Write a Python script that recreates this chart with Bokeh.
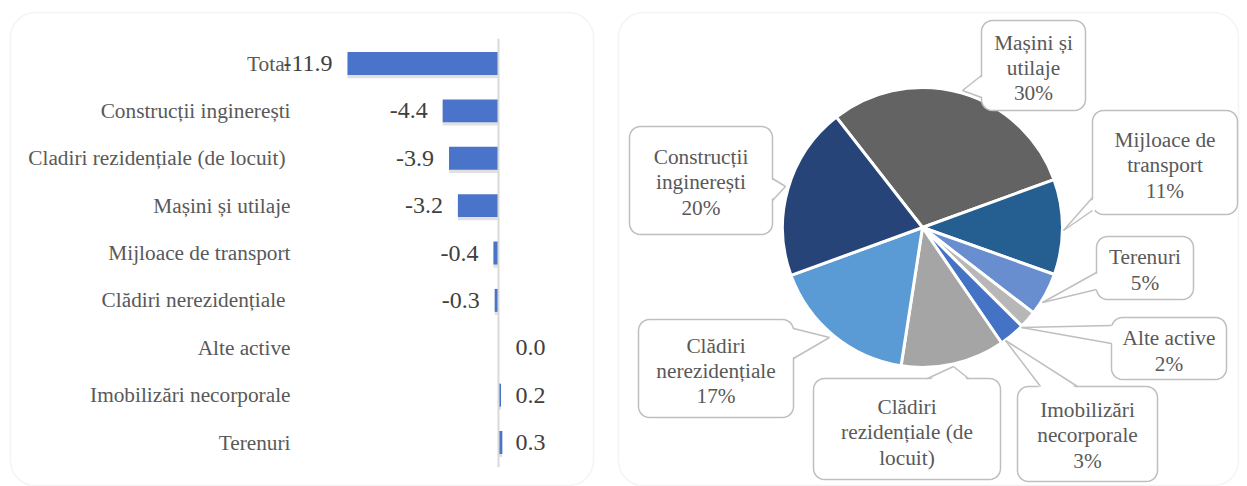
import numpy as np
from bokeh.plotting import figure
from bokeh.models import ColumnDataSource, Range1d, BoxAnnotation
from bokeh.layouts import row
from bokeh.transform import dodge
from bokeh.core.properties import value
from bokeh.embed import file_html
from bokeh.resources import INLINE

# ---------------- data ----------------
bar_categories = ["Total", "Construcții inginerești", "Cladiri rezidențiale (de locuit)",
                  "Mașini și utilaje", "Mijloace de transport", "Clădiri nerezidențiale",
                  "Alte active", "Imobilizări necorporale", "Terenuri"]
bar_values = [-11.9, -4.4, -3.9, -3.2, -0.4, -0.3, 0.0, 0.2, 0.3]

pie_categories = ["Mașini și utilaje", "Mijloace de transport", "Terenuri", "Alte active",
                  "Imobilizări necorporale", "Clădiri rezidențiale (de locuit)",
                  "Clădiri nerezidențiale", "Construcții inginerești"]
pie_shares = [30, 11, 5, 2, 3, 12, 17, 20]

# ---------------- styles / layout ----------------
FONT = "Liberation Serif"
FS = "21.3px"
FS_VAL = "24px"
TXT = "#595959"
pie_colors = ["#636363", "#255E91", "#698ED0", "#B7B7B7", "#4472C4", "#A5A5A5", "#5B9BD5", "#264478"]
pie_label_text = ["Mașini și\nutilaje", "Mijloace de\ntransport", "Terenuri", "Alte active",
                  "Imobilizări\nnecorporale", "Clădiri\nrezidențiale (de\nlocuit)",
                  "Clădiri\nnerezidențiale", "Construcții\ninginerești"]
pie_show_pct = [True, True, True, True, True, False, True, True]
# callout boxes in page pixel coords: (x0, x1, y0, y1), tail (base1, base2, tip)
callout_boxes = [(981, 1085, 20, 110), (1092, 1237, 110, 214), (1096, 1193, 236, 299),
                 (1111, 1226, 317, 379), (1017, 1157, 386, 481), (813, 1000, 378, 479),
                 (638, 793, 319, 417), (629, 772, 126, 234)]
callout_tails = [((981, 75), (981, 97), (962, 90)), ((1092, 197), (1092, 210), (1063, 230)),
                 ((1096, 272), (1096, 289), (1042, 302)), ((1111, 325), (1111, 343), (1021, 327)),
                 ((1040, 386), (1077, 386), (1005, 340)), ((927, 378), (968, 378), (953, 366)),
                 ((793, 328), (793, 358), (829, 337)), ((772, 178), (772, 200), (785, 186))]
callout_text_y = [67.5, 165, 269.5, 350.5, 435, 432, 370.5, 182]

H = 486
W1 = 605
W2 = 1247 - W1

# ---------------- left: bar chart ----------------
PX = 12.69          # pixels per unit
ZERO = 498          # page x of zero
ROW0, ROWSTEP = 63, 47.375   # page y of first row centre, row spacing

p1 = figure(width=W1, height=H, output_backend="svg", toolbar_location=None,
            x_range=Range1d(-ZERO / PX, (W1 - ZERO) / PX),
            y_range=Range1d((H - ROW0) / ROWSTEP, -ROW0 / ROWSTEP),
            min_border_left=0, min_border_right=0, min_border_top=0, min_border_bottom=0)
p1.axis.visible = False
p1.grid.visible = False
p1.outline_line_color = None
p1.background_fill_color = None
p1.border_fill_color = None

vals = np.array(bar_values)
pos = np.arange(len(bar_categories), dtype=float)
src = ColumnDataSource(dict(
    pos=pos, cat=bar_categories,
    left=np.minimum(vals, 0), right=np.maximum(vals, 0),
    lab=[f"{v:.1f}" for v in vals],
    align=["right" if v < 0 else "left" for v in vals],
    xoff=[-15 if v < 0 else 17 for v in vals],
    cat_dx=[0, 0, -5, 0, 0, -5, 0, 0, 0],
))

p1.add_layout(BoxAnnotation(left=10, right=593, top=12, bottom=485,
                            left_units="canvas", right_units="canvas",
                            top_units="canvas", bottom_units="canvas",
                            fill_color=None, line_color="#D9D9D9", line_width=1.5,
                            border_radius=25))
# soft shadow
p1.hbar(y=dodge("pos", 0.065), left="left", right="right", height=0.49,
        source=src, fill_color="#000000", fill_alpha=0.12, line_color=None)
p1.hbar(y="pos", left="left", right="right", height=0.485, source=src,
        fill_color="#4A74C9", line_color=None)
p1.segment(x0=0, x1=0, y0=-0.52, y1=len(bar_categories) - 0.48,
           line_color="#D9D9D9", line_width=2)

LABEL_X = (290 - ZERO) / PX
p1.text(x=LABEL_X, y="pos", text="cat", x_offset="cat_dx", source=src,
        text_font=value(FONT), text_font_size=FS, text_color=TXT,
        text_align="right", text_baseline="middle")
p1.text(x="left", y="pos", text="lab", source=src, x_offset="xoff",
        text_font=value(FONT), text_font_size=FS_VAL, text_color="#404040",
        text_align="align", text_baseline="middle")

# ---------------- right: pie ----------------
OX = W1


def tx(x):
    return x - OX


def ty(y):
    return H - y


p2 = figure(width=W2, height=H, output_backend="svg", toolbar_location=None,
            x_range=Range1d(0, W2), y_range=Range1d(0, H),
            min_border_left=0, min_border_right=0, min_border_top=0, min_border_bottom=0)
p2.axis.visible = False
p2.grid.visible = False
p2.outline_line_color = None
p2.background_fill_color = None
p2.border_fill_color = None

p2.add_layout(BoxAnnotation(left=618 - OX, right=1238 - OX, top=12, bottom=485,
                            left_units="canvas", right_units="canvas",
                            top_units="canvas", bottom_units="canvas",
                            fill_color=None, line_color="#D9D9D9", line_width=1.5,
                            border_radius=25))

shares = np.array(pie_shares, dtype=float)
frac = shares / shares.sum()
START = 128.0  # degrees, math convention; slices go clockwise
cum = np.concatenate([[0], np.cumsum(frac)])
a_from = np.deg2rad(START - cum[:-1] * 360)
a_to = np.deg2rad(START - cum[1:] * 360)
CX, CY, R = tx(922), ty(227), 140
wsrc = ColumnDataSource(dict(start=a_to, end=a_from, color=pie_colors, cat=pie_categories))
p2.wedge(x=CX, y=CY, radius=R, start_angle="start", end_angle="end", source=wsrc,
         fill_color="color", line_color="white", line_width=3)


def rrect(x0, x1, y0, y1, r=11, n=8):
    xs, ys = [], []
    for cx, cy, a0, a1 in [(x1 - r, y0 + r, -90, 0), (x1 - r, y1 - r, 0, 90),
                           (x0 + r, y1 - r, 90, 180), (x0 + r, y0 + r, 180, 270)]:
        for a in np.linspace(np.deg2rad(a0), np.deg2rad(a1), n):
            xs.append(tx(cx + r * np.cos(a)))
            ys.append(ty(cy + r * np.sin(a)))
    return xs, ys


BORDER = "#BFBFBF"
for box, tail in zip(callout_boxes, callout_tails):
    x0, x1, y0, y1 = box
    bxs, bys = rrect(x0, x1, y0, y1)
    p2.patch(bxs, bys, fill_color="white", line_color=BORDER, line_width=1.5)
    (b1x, b1y), (b2x, b2y), (tpx, tpy) = tail
    mx, my = (b1x + b2x) / 2, (b1y + b2y) / 2
    dx, dy = mx - tpx, my - tpy
    if abs(b1x - b2x) < 1e-6:  # vertical base edge
        ex, ey = np.sign(dx) * 2.5, 0
    else:
        ex, ey = 0, np.sign(dy) * 2.5
    p2.patch([tx(b1x + ex), tx(tpx), tx(b2x + ex)], [ty(b1y + ey), ty(tpy), ty(b2y + ey)],
             fill_color="white", line_color=None)
    p2.multi_line([[tx(b1x), tx(tpx)], [tx(tpx), tx(b2x)]],
                  [[ty(b1y), ty(tpy)], [ty(tpy), ty(b2y)]],
                  line_color=BORDER, line_width=1.5)

lab_src = ColumnDataSource(dict(
    x=[tx((b[0] + b[1]) / 2) for b in callout_boxes],
    y=[ty(v) for v in callout_text_y],
    text=[t + (f"\n{int(s)}%" if show else "")
          for t, s, show in zip(pie_label_text, pie_shares, pie_show_pct)],
))
p2.text(x="x", y="y", text="text", source=lab_src, text_font=value(FONT), text_font_size=FS,
        text_color=TXT, text_align="center", text_baseline="middle", text_line_height=1.05)

layout = row(p1, p2)
open("out.html", "w").write(file_html(layout, INLINE))
